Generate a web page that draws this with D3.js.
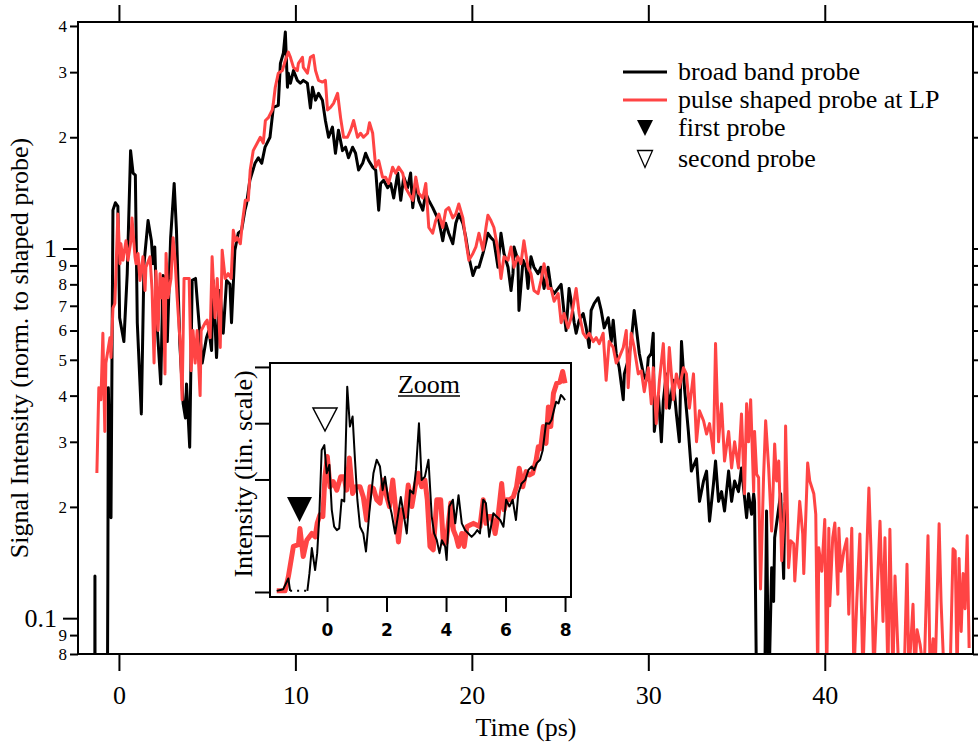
<!DOCTYPE html>
<html>
<head>
<meta charset="utf-8">
<script src="https://cdn.jsdelivr.net/npm/d3@7"></script>
<style>
  body { margin: 0; background: #fff; }
</style>
</head>
<body>
<script>
// series: [time (ps), normalized intensity]
const broadBand = [
  [-1.37,0.05],[-1.36,0.13],[-1.35,0.05],[-0.66,0.05],[-0.63,0.124],[-0.6,0.42],[-0.45,0.187],
  [-0.34,1.27],[-0.2,1.33],[-0.06,1.3],[0.04,0.65],[0.28,0.56],[0.47,0.855],[0.66,1.84],[0.8,1.6],
  [0.93,1.58],[1.04,0.63],[1.27,0.357],[1.42,0.91],[1.65,1.19],[1.84,1.05],[1.93,0.91],[2.03,1.01],
  [2.18,0.6],[2.37,0.43],[2.5,0.845],[2.63,0.83],[2.74,0.56],[2.93,1.07],[3.13,1.5],[3.26,1.12],
  [3.45,0.553],[3.64,0.38],[3.77,0.348],[3.83,0.43],[4.01,0.29],[4.15,0.82],[4.34,0.83],[4.45,0.71],
  [4.72,0.49],[4.96,0.574],[5.1,0.6],[5.25,0.53],[5.34,0.82],[5.53,0.507],[5.72,0.77],[5.91,0.59],
  [6.1,0.82],[6.29,0.8],[6.38,0.63],[6.57,0.99],[6.76,1.1],[6.95,1.12],[7.14,1.27],[7.23,1.32],
  [7.42,1.53],[7.71,1.7],[7.9,1.76],[8.09,1.7],[8.28,1.88],[8.56,2.0],[8.75,2.41],[9.03,2.44],
  [9.15,3.17],[9.32,3.38],[9.43,3.85],[9.55,2.73],[9.6,2.98],[9.72,2.8],[9.89,3.03],[10.11,2.85],
  [10.28,2.8],[10.45,2.85],[10.68,2.8],[10.85,2.4],[10.97,2.73],[11.14,2.52],[11.31,2.63],[11.53,2.52],
  [11.7,2.22],[11.88,2.0],[12.1,2.13],[12.27,1.81],[12.44,2.09],[12.67,1.84],[12.84,1.88],[13.01,1.76],
  [13.24,1.88],[13.41,1.81],[13.58,1.63],[13.81,1.7],[13.98,1.81],[14.15,1.73],[14.38,1.66],[14.55,1.63],
  [14.72,1.27],[14.83,1.5],[15.0,1.53],[15.23,1.46],[15.4,1.5],[15.57,1.37],[15.8,1.6],[15.97,1.35],
  [16.14,1.56],[16.36,1.46],[16.53,1.6],[16.65,1.29],[16.82,1.53],[16.99,1.35],[17.22,1.27],[17.39,1.41],
  [17.56,1.35],[17.78,1.29],[17.95,1.24],[18.13,1.19],[18.35,1.05],[18.52,1.17],[18.69,1.1],[18.92,1.03],
  [19.09,1.17],[19.26,1.24],[19.49,1.17],[19.66,1.07],[19.83,0.95],[20.06,0.845],[20.23,0.89],[20.4,0.89],
  [20.63,0.97],[20.91,1.1],[21.08,1.07],[21.25,1.05],[21.48,0.89],[21.65,1.1],[21.82,0.97],[22.05,0.89],
  [22.22,0.77],[22.33,0.855],[22.39,1.01],[22.61,0.93],[22.67,0.68],[22.9,0.93],[23.07,0.89],[23.18,0.78],
  [23.35,0.95],[23.52,0.89],[23.75,0.855],[23.92,0.89],[24.09,0.78],[24.32,0.89],[24.49,0.78],[24.66,0.755],
  [24.89,0.78],[25.06,0.8],[25.23,0.667],[25.34,0.6],[25.51,0.78],[25.63,0.72],[25.8,0.63],[25.91,0.59],
  [26.08,0.64],[26.31,0.667],[26.48,0.61],[26.65,0.54],[26.76,0.68],[26.93,0.71],[27.16,0.736],[27.33,0.68],
  [27.5,0.61],[27.73,0.65],[27.9,0.56],[28.01,0.64],[28.18,0.52],[28.35,0.476],[28.58,0.39],[28.64,0.458],
  [28.86,0.5],[29.03,0.56],[29.2,0.68],[29.32,0.61],[29.49,0.52],[29.72,0.458],[29.89,0.44],[30.0,0.507],
  [30.17,0.52],[30.28,0.59],[30.34,0.32],[30.57,0.4],[30.74,0.3],[30.85,0.387],[31.02,0.458],[31.19,0.37],
  [31.42,0.44],[31.59,0.357],[31.76,0.3],[31.88,0.56],[32.05,0.42],[32.27,0.32],[32.44,0.25],[32.73,0.27],
  [32.9,0.207],[33.13,0.235],[33.3,0.25],[33.47,0.183],[33.69,0.23],[33.81,0.266],[33.98,0.207],[34.15,0.22],
  [34.32,0.195],[34.55,0.25],[34.72,0.207],[34.89,0.235],[35.11,0.22],[35.28,0.255],[35.57,0.187],[35.68,0.217],
  [35.85,0.191],[35.97,0.217],[36.02,0.207],[36.14,0.06],[36.59,0.06],[36.7,0.195],[36.82,0.06],[36.99,0.137],
  [37.1,0.111],[37.16,0.165],[37.5,0.217],[37.67,0.128],[37.73,0.204]
];

const pulseShaped = [
  [-1.25,0.247],[-1.14,0.42],[-1.02,0.39],[-0.91,0.59],[-0.8,0.32],[-0.74,0.49],[-0.51,0.574],[-0.45,0.507],
  [-0.34,0.69],[-0.23,0.71],[-0.06,1.24],[0.06,0.91],[0.11,1.03],[0.23,0.93],[0.4,1.05],[0.51,0.93],
  [0.68,1.05],[0.74,1.21],[0.91,0.95],[0.97,0.91],[1.08,0.97],[1.19,0.82],[1.36,0.95],[1.48,0.77],
  [1.53,0.89],[1.76,0.95],[1.88,0.77],[1.99,0.49],[2.1,0.87],[2.22,0.6],[2.33,0.855],[2.39,0.736],
  [2.5,0.83],[2.61,0.458],[2.67,0.97],[2.78,0.736],[2.95,0.83],[3.07,1.07],[3.18,0.93],[3.3,0.736],
  [3.47,0.553],[3.58,0.39],[3.69,0.83],[3.81,0.83],[3.98,0.83],[4.09,0.467],[4.2,0.6],[4.32,0.49],
  [4.43,0.6],[4.6,0.4],[4.66,0.6],[4.89,0.63],[5.0,0.64],[5.17,0.574],[5.28,0.95],[5.45,0.65],
  [5.57,0.83],[5.74,0.54],[5.85,0.99],[6.02,0.83],[6.19,0.855],[6.36,0.83],[6.48,1.12],[6.59,1.05],
  [6.7,1.07],[6.88,1.03],[6.99,1.17],[7.16,1.35],[7.33,1.35],[7.44,1.63],[7.61,1.84],[7.84,1.93],
  [8.01,2.0],[8.18,1.93],[8.3,2.22],[8.47,2.26],[8.69,2.37],[8.75,2.47],[8.86,2.73],[9.03,2.98],
  [9.26,3.03],[9.43,3.23],[9.6,3.4],[9.72,3.29],[9.89,3.09],[10.11,3.03],[10.17,3.17],[10.4,3.29],
  [10.45,3.09],[10.68,2.98],[10.85,3.29],[11.02,3.33],[11.14,3.03],[11.31,2.85],[11.53,2.82],[11.7,2.85],
  [11.82,2.37],[11.99,2.41],[12.16,2.47],[12.39,2.63],[12.56,2.26],[12.73,2.0],[12.95,2.0],[13.13,2.09],
  [13.3,2.22],[13.52,2.0],[13.69,2.05],[13.86,2.0],[14.09,2.05],[14.2,2.19],[14.38,2.05],[14.55,1.66],
  [14.72,1.73],[14.94,1.56],[15.11,1.56],[15.28,1.5],[15.51,1.66],[15.68,1.6],[15.85,1.66],[16.08,1.6],
  [16.25,1.46],[16.42,1.41],[16.65,1.35],[16.82,1.56],[16.99,1.41],[17.22,1.37],[17.39,1.5],[17.56,1.14],
  [17.78,1.1],[17.95,1.19],[18.13,1.24],[18.35,1.14],[18.52,1.27],[18.69,1.29],[18.92,1.21],[19.09,1.24],
  [19.26,1.32],[19.49,1.21],[19.66,1.05],[19.83,0.93],[20.06,0.97],[20.23,1.01],[20.4,1.1],[20.63,0.99],
  [20.8,1.14],[20.91,1.23],[21.08,1.19],[21.25,1.14],[21.48,0.99],[21.65,0.83],[21.82,0.95],[22.05,0.93],
  [22.22,1.01],[22.39,0.89],[22.61,0.95],[22.78,0.91],[22.95,1.05],[23.18,0.89],[23.35,0.855],[23.52,0.77],
  [23.75,0.755],[23.92,0.82],[24.09,0.91],[24.32,0.78],[24.49,0.78],[24.66,0.72],[24.89,0.755],[25.06,0.63],
  [25.23,0.667],[25.45,0.61],[25.63,0.65],[25.91,0.78],[26.08,0.667],[26.31,0.59],[26.48,0.574],[26.65,0.59],
  [26.88,0.56],[27.05,0.574],[27.22,0.553],[27.44,0.59],[27.61,0.44],[27.78,0.56],[28.01,0.54],[28.18,0.49],
  [28.35,0.507],[28.58,0.54],[28.75,0.6],[28.86,0.42],[29.03,0.59],[29.2,0.54],[29.43,0.458],[29.6,0.467],
  [29.77,0.41],[30.0,0.476],[30.17,0.38],[30.28,0.476],[30.45,0.336],[30.63,0.44],[30.85,0.553],[31.02,0.37],
  [31.19,0.54],[31.42,0.39],[31.59,0.458],[31.76,0.42],[31.99,0.476],[32.16,0.458],[32.33,0.37],[32.56,0.458],
  [32.73,0.3],[32.9,0.364],[33.13,0.342],[33.3,0.315],[33.47,0.336],[33.69,0.28],[33.81,0.553],[33.98,0.3],
  [34.15,0.38],[34.32,0.266],[34.55,0.32],[34.72,0.255],[34.89,0.3],[35.11,0.255],[35.28,0.357],[35.45,0.217],
  [35.57,0.38],[35.68,0.3],[35.8,0.39],[35.97,0.22],[36.02,0.32],[36.14,0.245],[36.25,0.24],[36.36,0.12],
  [36.53,0.24],[36.65,0.342],[36.82,0.255],[36.99,0.172],[37.16,0.296],[37.27,0.235],[37.39,0.266],[37.56,0.143],
  [37.73,0.207],[37.78,0.331],[37.95,0.137],[38.07,0.162],[38.24,0.159],[38.3,0.126],[38.47,0.169],[38.58,0.207],
  [38.75,0.169],[38.81,0.132],[39.03,0.263],[39.15,0.235],[39.38,0.217],[39.49,0.191],[39.6,0.07],[39.66,0.155],
  [39.83,0.134],[40.0,0.185],[40.11,0.07],[40.23,0.175],[40.28,0.108],[40.45,0.165],[40.57,0.181],[40.74,0.116],
  [40.8,0.175],[40.91,0.134],[41.08,0.152],[41.25,0.164],[41.36,0.1025],[41.53,0.175],[41.65,0.07],[41.82,0.113],
  [41.99,0.169],[42.16,0.07],[42.33,0.128],[42.5,0.225],[42.61,0.157],[42.78,0.07],[43.13,0.183],[43.3,0.098],
  [43.41,0.165],[43.58,0.07],[43.69,0.174],[43.86,0.07],[43.98,0.13],[44.2,0.07],[44.5,0.07],[44.66,0.14],
  [44.77,0.07],[45.0,0.109],[45.11,0.07],[45.23,0.093],[45.4,0.085],[45.63,0.07],[45.85,0.167],[45.97,0.07],
  [46.14,0.088],[46.25,0.07],[46.48,0.18],[46.59,0.111],[46.76,0.07],[47.1,0.07],[47.27,0.154],[47.39,0.152],
  [47.5,0.07],[47.61,0.145],[47.73,0.092],[47.84,0.132],[47.95,0.106],[48.07,0.167],[48.18,0.083]
];

// inset (linear scale, arbitrary units)
const zoomBroad = [
  [-1.69,0.02],[-1.47,0.05],[-1.3,0.24],[-1.24,0.02],
  [-0.66,0.02],[-0.59,0.33],[-0.51,0.78],[-0.4,0.39],[-0.33,0.69],[-0.26,1.34],[-0.18,2.52],[-0.09,2.61],
  [-0.01,2.11],[0.08,2.26],[0.16,1.46],[0.24,1.16],[0.33,1.1],[0.41,1.13],[0.49,1.64],[0.58,1.61],
  [0.68,3.65],[0.77,2.94],[0.86,3.12],[0.94,2.35],[1.02,1.64],[1.11,1.16],[1.22,1.04],[1.31,0.72],
  [1.42,1.4],[1.56,2.11],[1.67,2.35],[1.78,2.23],[1.87,1.81],[1.95,2.05],[2.06,1.64],[2.17,1.4],
  [2.29,1.04],[2.38,1.34],[2.48,1.69],[2.57,1.4],[2.68,1.04],[2.79,1.81],[2.9,1.75],[2.99,2.17],
  [3.09,3.0],[3.18,1.99],[3.29,2.05],[3.41,2.35],[3.52,1.34],[3.6,1.04],[3.69,0.92],[3.78,0.69],
  [3.86,0.92],[3.97,0.81],[4.02,0.57],[4.11,1.52],[4.23,1.64],[4.31,1.22],[4.42,1.72],[4.53,1.22],
  [4.64,1.1],[4.75,1.04],[4.86,0.98],[4.97,1.04],[5.05,1.1],[5.14,1.04],[5.25,1.64],[5.34,1.58],
  [5.45,0.98],[5.59,1.4],[5.7,1.34],[5.82,1.28],[5.93,1.16],[6.02,1.64],[6.13,1.52],[6.24,1.64],
  [6.35,1.28],[6.43,1.75],[6.54,1.93],[6.66,1.99],[6.77,2.17],[6.88,2.23],[6.96,2.17],[7.05,2.29],
  [7.16,2.35],[7.25,2.52],[7.36,3.0],[7.47,2.99],[7.55,3.06],[7.63,3.24],[7.7,3.38],[7.78,3.35],
  [7.86,3.5],[7.92,3.47],[8.0,3.41]
];
const zoomDotted = [-1.24, -0.66];

const zoomShaped = [
  [-1.69,0.02],[-1.41,0.02],[-1.3,0.27],[-1.13,0.81],[-0.96,0.84],[-0.91,1.13],[-0.8,0.63],[-0.68,0.92],
  [-0.51,1.04],[-0.4,0.98],[-0.33,1.22],[-0.24,1.37],[-0.14,1.34],[-0.07,2.05],[0.01,2.41],[0.1,1.87],
  [0.21,1.96],[0.33,1.81],[0.46,2.05],[0.57,2.05],[0.66,1.81],[0.75,2.38],[0.86,1.75],[0.97,1.87],
  [1.11,1.87],[1.22,1.69],[1.33,1.28],[1.45,1.87],[1.56,1.84],[1.67,1.64],[1.78,1.58],[1.89,1.99],
  [1.98,1.75],[2.1,1.52],[2.21,1.99],[2.32,1.4],[2.4,0.89],[2.51,1.46],[2.62,1.34],[2.73,1.9],
  [2.85,1.52],[2.96,1.87],[3.07,2.11],[3.18,1.87],[3.29,1.99],[3.37,1.64],[3.46,0.81],[3.57,0.75],
  [3.69,1.64],[3.82,1.64],[3.91,0.87],[4.0,0.87],[4.08,1.22],[4.16,1.58],[4.25,1.1],[4.34,0.98],
  [4.42,0.81],[4.53,1.04],[4.61,0.81],[4.7,1.16],[4.81,1.19],[4.92,1.22],[5.03,1.19],[5.14,1.16],
  [5.25,1.64],[5.34,1.22],[5.42,1.34],[5.54,1.34],[5.65,1.04],[5.76,1.4],[5.87,1.93],[5.95,1.46],
  [6.04,1.64],[6.15,1.64],[6.26,1.69],[6.37,1.87],[6.46,2.2],[6.58,1.87],[6.69,2.14],[6.8,2.08],
  [6.91,2.11],[7.03,2.35],[7.1,2.58],[7.18,2.55],[7.27,2.94],[7.36,2.64],[7.44,3.29],[7.52,2.94],
  [7.61,3.53],[7.72,3.71],[7.83,3.73],[7.92,3.92],[8.0,3.71]
];

const xTicks = [0, 10, 20, 30, 40];
const yMajor = [0.1, 1];
const yMinor = [0.08, 0.09, 0.2, 0.3, 0.4, 0.5, 0.6, 0.7, 0.8, 0.9, 2, 3, 4];
const zoomXTicks = [0, 2, 4, 6, 8];
const zoomYTicks = [0, 1, 2, 3, 4];
const legendItems = ['broad band probe', 'pulse shaped probe at LP', 'first probe', 'second probe'];

const RED = '#ff4444';
const SERIF = '"Liberation Serif", "Times New Roman", Times, serif';
const width = 978, height = 742;
const m = { left: 78, right: 973, top: 22, bottom: 654 };

const svg = d3.select('body').append('svg')
  .attr('width', width)
  .attr('height', height)
  .attr('font-family', SERIF);

// scales
const x = d3.scaleLinear().domain([-2.32, 48.4]).range([m.left, m.right]);
const y = d3.scaleLog().domain([0.08, 4.1]).range([m.bottom, m.top]);

svg.append('clipPath').attr('id', 'plot-clip')
  .append('rect')
  .attr('x', m.left).attr('y', m.top)
  .attr('width', m.right - m.left).attr('height', m.bottom - m.top);

const line = d3.line().x(d => x(d[0])).y(d => y(d[1]));

const plot = svg.append('g').attr('clip-path', 'url(#plot-clip)');
plot.append('path').datum(broadBand)
  .attr('d', line).attr('fill', 'none')
  .attr('stroke', '#000').attr('stroke-width', 3).attr('stroke-linejoin', 'round');
plot.append('path').datum(pulseShaped)
  .attr('d', line).attr('fill', 'none')
  .attr('stroke', RED).attr('stroke-width', 3).attr('stroke-linejoin', 'round');

// axes
function styleAxis(g, fontSize) {
  g.attr('font-family', SERIF).attr('font-size', fontSize);
  g.select('.domain').remove();
  g.selectAll('.tick line').attr('stroke', '#000').attr('stroke-width', 2);
  g.selectAll('.tick text')
    .style('font-family', SERIF)
    .style('font-size', fontSize + 'px')
    .attr('fill', '#000');
}

svg.append('g')
  .attr('transform', `translate(0,${m.bottom})`)
  .call(d3.axisBottom(x).tickValues(xTicks).tickSize(17).tickPadding(15).tickFormat(d3.format('d')))
  .call(g => styleAxis(g, 26));

svg.append('g')
  .attr('transform', `translate(0,${m.top})`)
  .call(d3.axisTop(x).tickValues(xTicks).tickSize(17).tickFormat(''))
  .call(g => styleAxis(g, 26));

svg.append('g')
  .attr('transform', `translate(${m.left},0)`)
  .call(d3.axisLeft(y).tickValues(yMajor).tickSize(15).tickPadding(6).tickFormat(d => d === 1 ? '1' : '0.1'))
  .call(g => styleAxis(g, 26));

svg.append('g')
  .attr('transform', `translate(${m.left},0)`)
  .call(d3.axisLeft(y).tickValues(yMinor).tickSize(8).tickPadding(3)
    .tickFormat(d => String(Math.round(d / Math.pow(10, Math.floor(Math.log10(d) + 1e-9))))))
  .call(g => styleAxis(g, 17));

svg.append('g')
  .attr('transform', `translate(${m.right},0)`)
  .call(d3.axisRight(y).tickValues(yMajor).tickSize(12).tickFormat(''))
  .call(g => styleAxis(g, 17));
svg.append('g')
  .attr('transform', `translate(${m.right},0)`)
  .call(d3.axisRight(y).tickValues(yMinor).tickSize(7).tickFormat(''))
  .call(g => styleAxis(g, 17));

svg.append('rect')
  .attr('x', m.left).attr('y', m.top)
  .attr('width', m.right - m.left).attr('height', m.bottom - m.top)
  .attr('fill', 'none').attr('stroke', '#000').attr('stroke-width', 2);

// axis labels
svg.append('text')
  .attr('x', 526).attr('y', 736)
  .attr('text-anchor', 'middle')
  .style('font-family', SERIF).style('font-size', '26px')
  .text('Time (ps)');

svg.append('text')
  .attr('transform', 'translate(28,348) rotate(-90)')
  .attr('text-anchor', 'middle')
  .style('font-family', SERIF).style('font-size', '26px')
  .text('Signal Intensity (norm. to shaped probe)');

// legend
const legend = svg.append('g');
const legendY = [72, 100, 128, 159];
legend.append('line').attr('x1', 623).attr('x2', 667).attr('y1', legendY[0]).attr('y2', legendY[0])
  .attr('stroke', '#000').attr('stroke-width', 3);
legend.append('line').attr('x1', 623).attr('x2', 667).attr('y1', legendY[1]).attr('y2', legendY[1])
  .attr('stroke', RED).attr('stroke-width', 3);

function downTriangle(cx, cy, w, h) {
  return `M${cx - w / 2},${cy - h / 2}L${cx + w / 2},${cy - h / 2}L${cx},${cy + h / 2}Z`;
}
legend.append('path').attr('d', downTriangle(645, legendY[2], 16, 16)).attr('fill', '#000');
legend.append('path').attr('d', downTriangle(645, legendY[3], 15, 17))
  .attr('fill', '#fff').attr('stroke', '#000').attr('stroke-width', 1.3);

legend.selectAll('text.leg').data(legendItems).enter().append('text')
  .attr('class', 'leg')
  .attr('x', 678).attr('y', (d, i) => legendY[i] + 8)
  .style('font-family', SERIF).style('font-size', '26px')
  .text(d => d);

// inset
const inset = { left: 270, right: 571, top: 363, bottom: 597 };
const zx = d3.scaleLinear().domain([-1.916, 8.2]).range([inset.left, inset.right]);
const zy = d3.scaleLinear().domain([-0.089, 4.07]).range([inset.bottom, inset.top]);
const zline = d3.line().x(d => zx(d[0])).y(d => zy(d[1]));

const ig = svg.append('g');
ig.append('rect')
  .attr('x', inset.left).attr('y', inset.top)
  .attr('width', inset.right - inset.left).attr('height', inset.bottom - inset.top)
  .attr('fill', '#fff');

ig.append('path').datum(zoomShaped)
  .attr('d', zline).attr('fill', 'none')
  .attr('stroke', RED).attr('stroke-width', 5).attr('stroke-linejoin', 'round');

const broadBefore = zoomBroad.filter(d => d[0] <= zoomDotted[0]);
const broadAfter = zoomBroad.filter(d => d[0] >= zoomDotted[1]);
const broadGap = zoomBroad.filter(d => d[0] === zoomDotted[0] || d[0] === zoomDotted[1]);
[broadBefore, broadAfter].forEach(seg => {
  ig.append('path').datum(seg)
    .attr('d', zline).attr('fill', 'none')
    .attr('stroke', '#000').attr('stroke-width', 2).attr('stroke-linejoin', 'round');
});
ig.append('path').datum(broadGap)
  .attr('d', zline).attr('fill', 'none')
  .attr('stroke', '#000').attr('stroke-width', 2).attr('stroke-dasharray', '2,5');

ig.append('g')
  .attr('transform', `translate(${inset.left},0)`)
  .call(d3.axisLeft(zy).tickValues(zoomYTicks).tickSize(15).tickFormat(''))
  .call(g => styleAxis(g, 17));

ig.append('g')
  .attr('transform', `translate(0,${inset.bottom})`)
  .call(d3.axisBottom(zx).tickValues(zoomXTicks).tickSize(15).tickPadding(12).tickFormat(d3.format('d')))
  .call(g => {
    styleAxis(g, 17);
    g.selectAll('.tick text')
      .style('font-family', '"DejaVu Sans", sans-serif')
      .style('font-weight', 'bold');
  });

ig.append('rect')
  .attr('x', inset.left).attr('y', inset.top)
  .attr('width', inset.right - inset.left).attr('height', inset.bottom - inset.top)
  .attr('fill', 'none').attr('stroke', '#000').attr('stroke-width', 2);

ig.append('text')
  .attr('x', 429).attr('y', 393)
  .attr('text-anchor', 'middle')
  .style('font-family', SERIF).style('font-size', '26px')
  .text('Zoom');
ig.append('line')
  .attr('x1', 398).attr('x2', 460).attr('y1', 396).attr('y2', 396)
  .attr('stroke', '#000').attr('stroke-width', 1.5);

ig.append('text')
  .attr('transform', 'translate(252,474) rotate(-90)')
  .attr('text-anchor', 'middle')
  .style('font-family', SERIF).style('font-size', '26px')
  .text('Intensity (lin. scale)');

// probe markers in the inset
ig.append('path').attr('d', downTriangle(299.5, 509.5, 25, 25)).attr('fill', '#000');
ig.append('path').attr('d', downTriangle(325, 419.5, 24, 23))
  .attr('fill', '#fff').attr('stroke', '#000').attr('stroke-width', 1.5);
</script>
</body>
</html>
